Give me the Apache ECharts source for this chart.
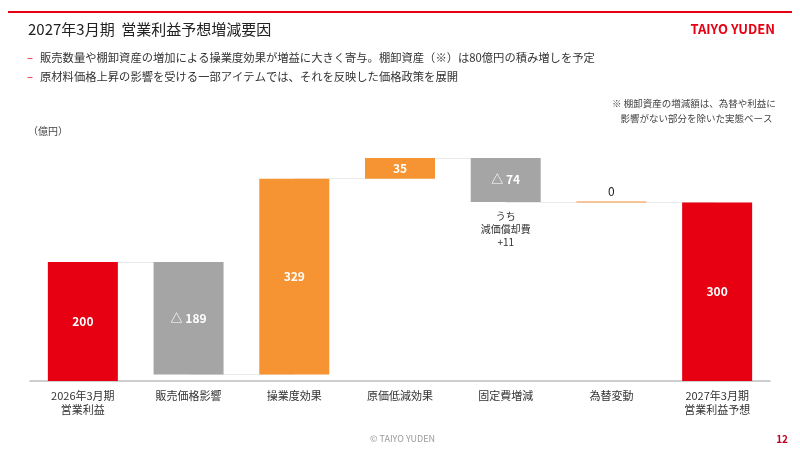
<!DOCTYPE html>
<html>
<head>
<meta charset="utf-8">
<script src="https://cdn.jsdelivr.net/npm/echarts@6/dist/echarts.min.js"></script>
<style>
  html, body { margin: 0; padding: 0; background: #fff; }
  #main { width: 800px; height: 450px; }
</style>
</head>
<body>
<div id="main"></div>
<script>
var chartDom = document.getElementById('main');
var myChart = echarts.init(chartDom);

var font = '"Noto Sans CJK JP", "Noto Sans", sans-serif';

// items
var categories = ['2026年3月期\n営業利益', '販売価格影響', '操業度効果', '原価低減効果', '固定費増減', '為替変動', '2027年3月期\n営業利益予想'];
var deltas = [200, -189, 329, 35, -74, 0, 300];
var isTotal = [true, false, false, false, false, false, true];
var barColors = ['#E60012', '#A5A5A5', '#F69433', '#F69433', '#A5A5A5', '#F69433', '#E60012'];
var noteIndex = 4;
var noteText = 'うち\n減価償却費\n+11';

// base / height for the floating bars
var baseData = [];
var barData = [];
var levels = [];
var running = 0;
for (var i = 0; i < deltas.length; i++) {
    var d = deltas[i];
    if (isTotal[i]) {
        baseData.push(0);
        barData.push(d);
        running = d;
    } else {
        var next = running + d;
        baseData.push(Math.min(running, next));
        barData.push(Math.abs(d));
        running = next;
    }
    levels.push(running);
}

// connector lines between bars
var connectors = [];
for (var j = 0; j < levels.length - 1; j++) {
    connectors.push([{ coord: [j, levels[j]] }, { coord: [j + 1, levels[j]] }]);
}

function fmt(i) {
    var d = deltas[i];
    if (d < 0) return '△ ' + Math.abs(d);
    return String(d);
}

var option = {
    animation: false,
    textStyle: { fontFamily: font },
    graphic: [
        { type: 'rect', shape: { x: 8, y: 11, width: 784, height: 2 }, style: { fill: '#E60012' } },
        { type: 'text', left: 28, top: 22, style: { text: '2027年3月期  営業利益予想増減要因', font: '15px ' + font, fill: '#222' } },
        { type: 'text', right: 25, top: 23, style: { text: 'TAIYO YUDEN', font: 'bold 13px ' + font, fill: '#E60012' } },
        { type: 'text', left: 27, top: 52, style: { text: '–', font: '11.3px ' + font, fill: '#E60012' } },
        { type: 'text', left: 40, top: 52, style: { text: '販売数量や棚卸資産の増加による操業度効果が増益に大きく寄与。棚卸資産（※）は80億円の積み増しを予定', font: '11.3px ' + font, fill: '#333' } },
        { type: 'text', left: 27, top: 71, style: { text: '–', font: '11.3px ' + font, fill: '#E60012' } },
        { type: 'text', left: 40, top: 71, style: { text: '原材料価格上昇の影響を受ける一部アイテムでは、それを反映した価格政策を展開', font: '11.3px ' + font, fill: '#333' } },
        { type: 'text', left: 612, top: 96, style: { text: '※ 棚卸資産の増減額は、為替や利益に\n    影響がない部分を除いた実態ベース', font: '9.5px ' + font, fill: '#444', lineHeight: 15 } },
        { type: 'text', left: 28, top: 126, style: { text: '（億円）', font: '10px ' + font, fill: '#444' } },
        { type: 'text', left: 370, top: 434, style: { text: '© TAIYO YUDEN', font: '9px ' + font, fill: '#999' } },
        { type: 'text', right: 12, top: 434, style: { text: '12', font: 'bold 10px ' + font, fill: '#C00020' } }
    ],
    grid: { left: 30, right: 30, top: 143, bottom: 69 },
    xAxis: {
        type: 'category',
        data: categories,
        axisTick: { show: false },
        axisLine: { lineStyle: { color: '#BFBFBF', width: 1.5 } },
        axisLabel: { color: '#333', fontSize: 11, lineHeight: 14, margin: 8, interval: 0 }
    },
    yAxis: {
        type: 'value',
        min: 0,
        max: 400,
        show: false,
        splitLine: { show: false }
    },
    series: [
        {
            type: 'bar',
            stack: 'wf',
            barWidth: 70,
            silent: true,
            z: 1,
            itemStyle: { color: 'transparent' },
            data: baseData.map(function (b, i) {
                if (i !== noteIndex) return b;
                return {
                    value: b,
                    label: { show: true, position: 'insideTop', distance: 8, formatter: noteText, color: '#333', fontSize: 10, lineHeight: 13 }
                };
            }),
            markLine: {
                symbol: 'none',
                silent: true,
                z: 1,
                label: { show: false },
                lineStyle: { color: '#EBEBEB', type: 'solid', width: 1 },
                data: connectors
            }
        },
        {
            type: 'bar',
            stack: 'wf',
            barWidth: 70,
            z: 5,
            data: barData.map(function (v, i) {
                var item = {
                    value: v,
                    itemStyle: { color: barColors[i] },
                    label: {
                        show: true,
                        position: 'inside',
                        formatter: fmt(i),
                        color: '#fff',
                        fontSize: 12,
                        fontWeight: 'bold'
                    }
                };
                if (v === 0) {
                    item.itemStyle = { color: barColors[i], borderColor: '#F8B578', borderWidth: 1.5 };
                    item.label = { show: true, position: 'top', distance: 4, formatter: fmt(i), color: '#222', fontSize: 12 };
                }
                return item;
            })
        }
    ]
};

myChart.setOption(option);
</script>
</body>
</html>
